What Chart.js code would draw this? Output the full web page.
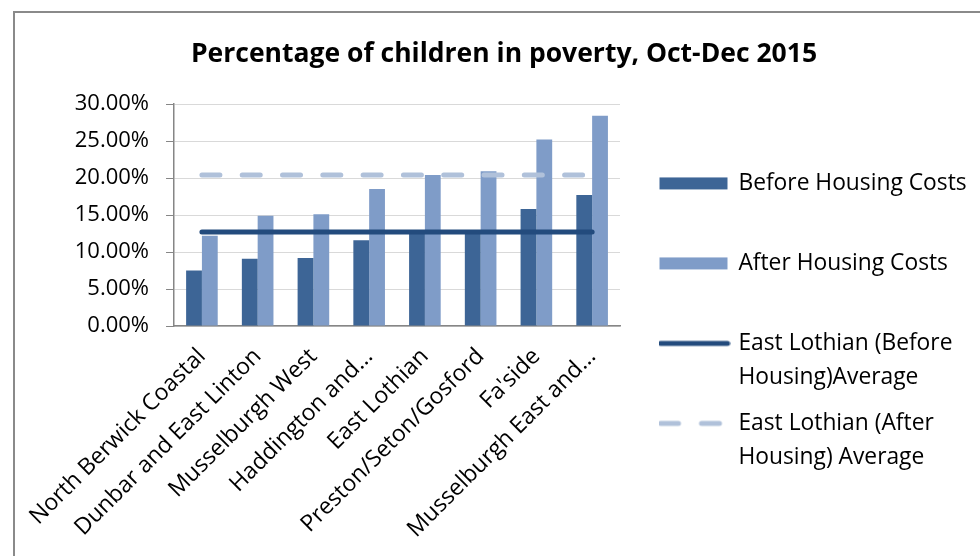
<!DOCTYPE html>
<html>
<head>
<meta charset="utf-8">
<title>Percentage of children in poverty, Oct-Dec 2015</title>
<script src="https://cdn.jsdelivr.net/npm/chart.js@4.4.1/dist/chart.umd.min.js"></script>
<style>
    html, body { margin: 0; padding: 0; background: #fff; overflow: hidden; width: 980px; height: 556px; }
    #frame { position: absolute; left: 13px; top: 11px; border-left: 2px solid #8a8a8a; border-top: 2px solid #8a8a8a; }
    #chart { display: block; }
</style>
</head>
<body>
<div id="frame"><canvas id="chart" width="978" height="626"></canvas></div>
<script>
const categories = [
    'North Berwick Coastal',
    'Dunbar and East Linton',
    'Musselburgh West',
    'Haddington and...',
    'East Lothian',
    'Preston/Seton/Gosford',
    "Fa'side",
    'Musselburgh East and...'
];

// percentages
const beforeHousing = [7.5, 9.1, 9.2, 11.6, 12.7, 12.7, 15.8, 17.7];
const afterHousing = [12.2, 14.9, 15.1, 18.5, 20.4, 20.9, 25.2, 28.4];
const beforeAverage = [12.7, 12.7, 12.7, 12.7, 12.7, 12.7, 12.7, 12.7];
const afterAverage = [20.4, 20.4, 20.4, 20.4, 20.4, 20.4, 20.4, 20.4];

const seriesNames = [
    'Before Housing Costs',
    'After Housing Costs',
    'East Lothian (Before Housing)Average',
    'East Lothian (After Housing) Average'
];
// how the legend breaks the names
const legendLines = [
    ['Before Housing Costs', ''],
    ['After Housing Costs', ''],
    ['East Lothian (Before', 'Housing)Average'],
    ['East Lothian (After', 'Housing) Average']
];

const yTicks = { min: 0, max: 30, step: 5 };

const colors = {
    before: '#3d6596',
    after: '#7f9cc8',
    beforeAvg: '#234b7d',
    afterAvg: '#b0c1da',
    grid: '#d9d9d9',
    axis: '#868686'
};

Chart.defaults.font.family = "'Open Sans', sans-serif";
Chart.defaults.color = '#000';

// little pictures for the legend
function makeSwatch(kind, color) {
    const c = document.createElement('canvas');
    c.width = 72;
    c.height = 14;
    const ctx = c.getContext('2d');
    if (kind === 'bar') {
        ctx.fillStyle = color;
        ctx.fillRect(1, 1, 68, 12);
    } else {
        ctx.strokeStyle = color;
        ctx.lineWidth = 5;
        ctx.lineCap = 'round';
        if (kind === 'dash') ctx.setLineDash([18, 23]);
        ctx.beginPath();
        ctx.moveTo(2, 7);
        ctx.lineTo(kind === 'dash' ? 64 : 69, 7);
        ctx.stroke();
    }
    return c;
}

const swatches = [
    makeSwatch('bar', colors.before),
    makeSwatch('bar', colors.after),
    makeSwatch('line', colors.beforeAvg),
    makeSwatch('dash', colors.afterAvg)
];

const legendWidth = 373;
const legendGap = 30;

// fixed legend width, then nudge it away from the plot
const legendSpacer = {
    id: 'legendSpacer',
    beforeInit(chart) {
        const fit = chart.legend.fit;
        chart.legend.fit = function () {
            fit.call(this);
            this.width = legendWidth;
        };
    },
    afterLayout(chart) {
        chart.legend.left += legendGap;
    }
};

const ctx = document.getElementById('chart').getContext('2d');
const chart = new Chart(ctx, {
    type: 'bar',
    data: {
        labels: categories,
        datasets: [
            {
                label: seriesNames[0],
                data: beforeHousing,
                backgroundColor: colors.before,
                categoryPercentage: 0.567,
                barPercentage: 1,
                order: 1
            },
            {
                label: seriesNames[1],
                data: afterHousing,
                backgroundColor: colors.after,
                categoryPercentage: 0.567,
                barPercentage: 1,
                order: 1
            },
            {
                type: 'line',
                label: seriesNames[2],
                data: beforeAverage,
                borderColor: colors.beforeAvg,
                borderWidth: 5,
                borderCapStyle: 'round',
                pointRadius: 0,
                fill: false,
                order: 0
            },
            {
                type: 'line',
                label: seriesNames[3],
                data: afterAverage,
                borderColor: colors.afterAvg,
                borderWidth: 5,
                borderCapStyle: 'round',
                borderDash: [18, 22.3],
                pointRadius: 0,
                fill: false,
                order: 0
            }
        ]
    },
    options: {
        responsive: false,
        animation: false,
        devicePixelRatio: 1,
        layout: { padding: 0 },
        scales: {
            x: {
                grid: { display: false },
                border: { color: colors.axis, width: 1.5 },
                ticks: {
                    autoSkip: false,
                    maxRotation: 45,
                    minRotation: 45,
                    padding: 9,
                    color: '#000',
                    font: { size: 23 }
                },
                afterFit: s => { s.height = 313; }
            },
            y: {
                min: yTicks.min,
                max: yTicks.max,
                grid: { color: colors.grid, tickColor: colors.axis, tickLength: 8 },
                border: { color: colors.axis, width: 1.5 },
                ticks: {
                    stepSize: yTicks.step,
                    padding: 17,
                    color: '#000',
                    font: { size: 22 },
                    callback: v => v.toFixed(2) + '%'
                },
                afterFit: s => { s.width = 159; }
            }
        },
        plugins: {
            title: {
                display: true,
                text: 'Percentage of children in poverty, Oct-Dec 2015',
                color: '#000',
                font: { size: 26.5, weight: 'bold', lineHeight: 1.2 },
                padding: { top: 25.1, bottom: 34.1 }
            },
            legend: {
                position: 'right',
                labels: {
                    usePointStyle: true,
                    pointStyleWidth: 65,
                    padding: 12,
                    color: '#000',
                    font: { size: 22.8, lineHeight: '34px' },
                    sort: (a, b) => a.datasetIndex - b.datasetIndex,
                    generateLabels: c => {
                        const items = Chart.defaults.plugins.legend.labels.generateLabels(c);
                        items.forEach(item => {
                            item.text = legendLines[item.datasetIndex];
                            item.pointStyle = swatches[item.datasetIndex];
                            item.lineWidth = 0;
                        });
                        return items;
                    }
                }
            },
            tooltip: { enabled: false }
        }
    },
    plugins: [legendSpacer]
});
</script>
</body>
</html>
